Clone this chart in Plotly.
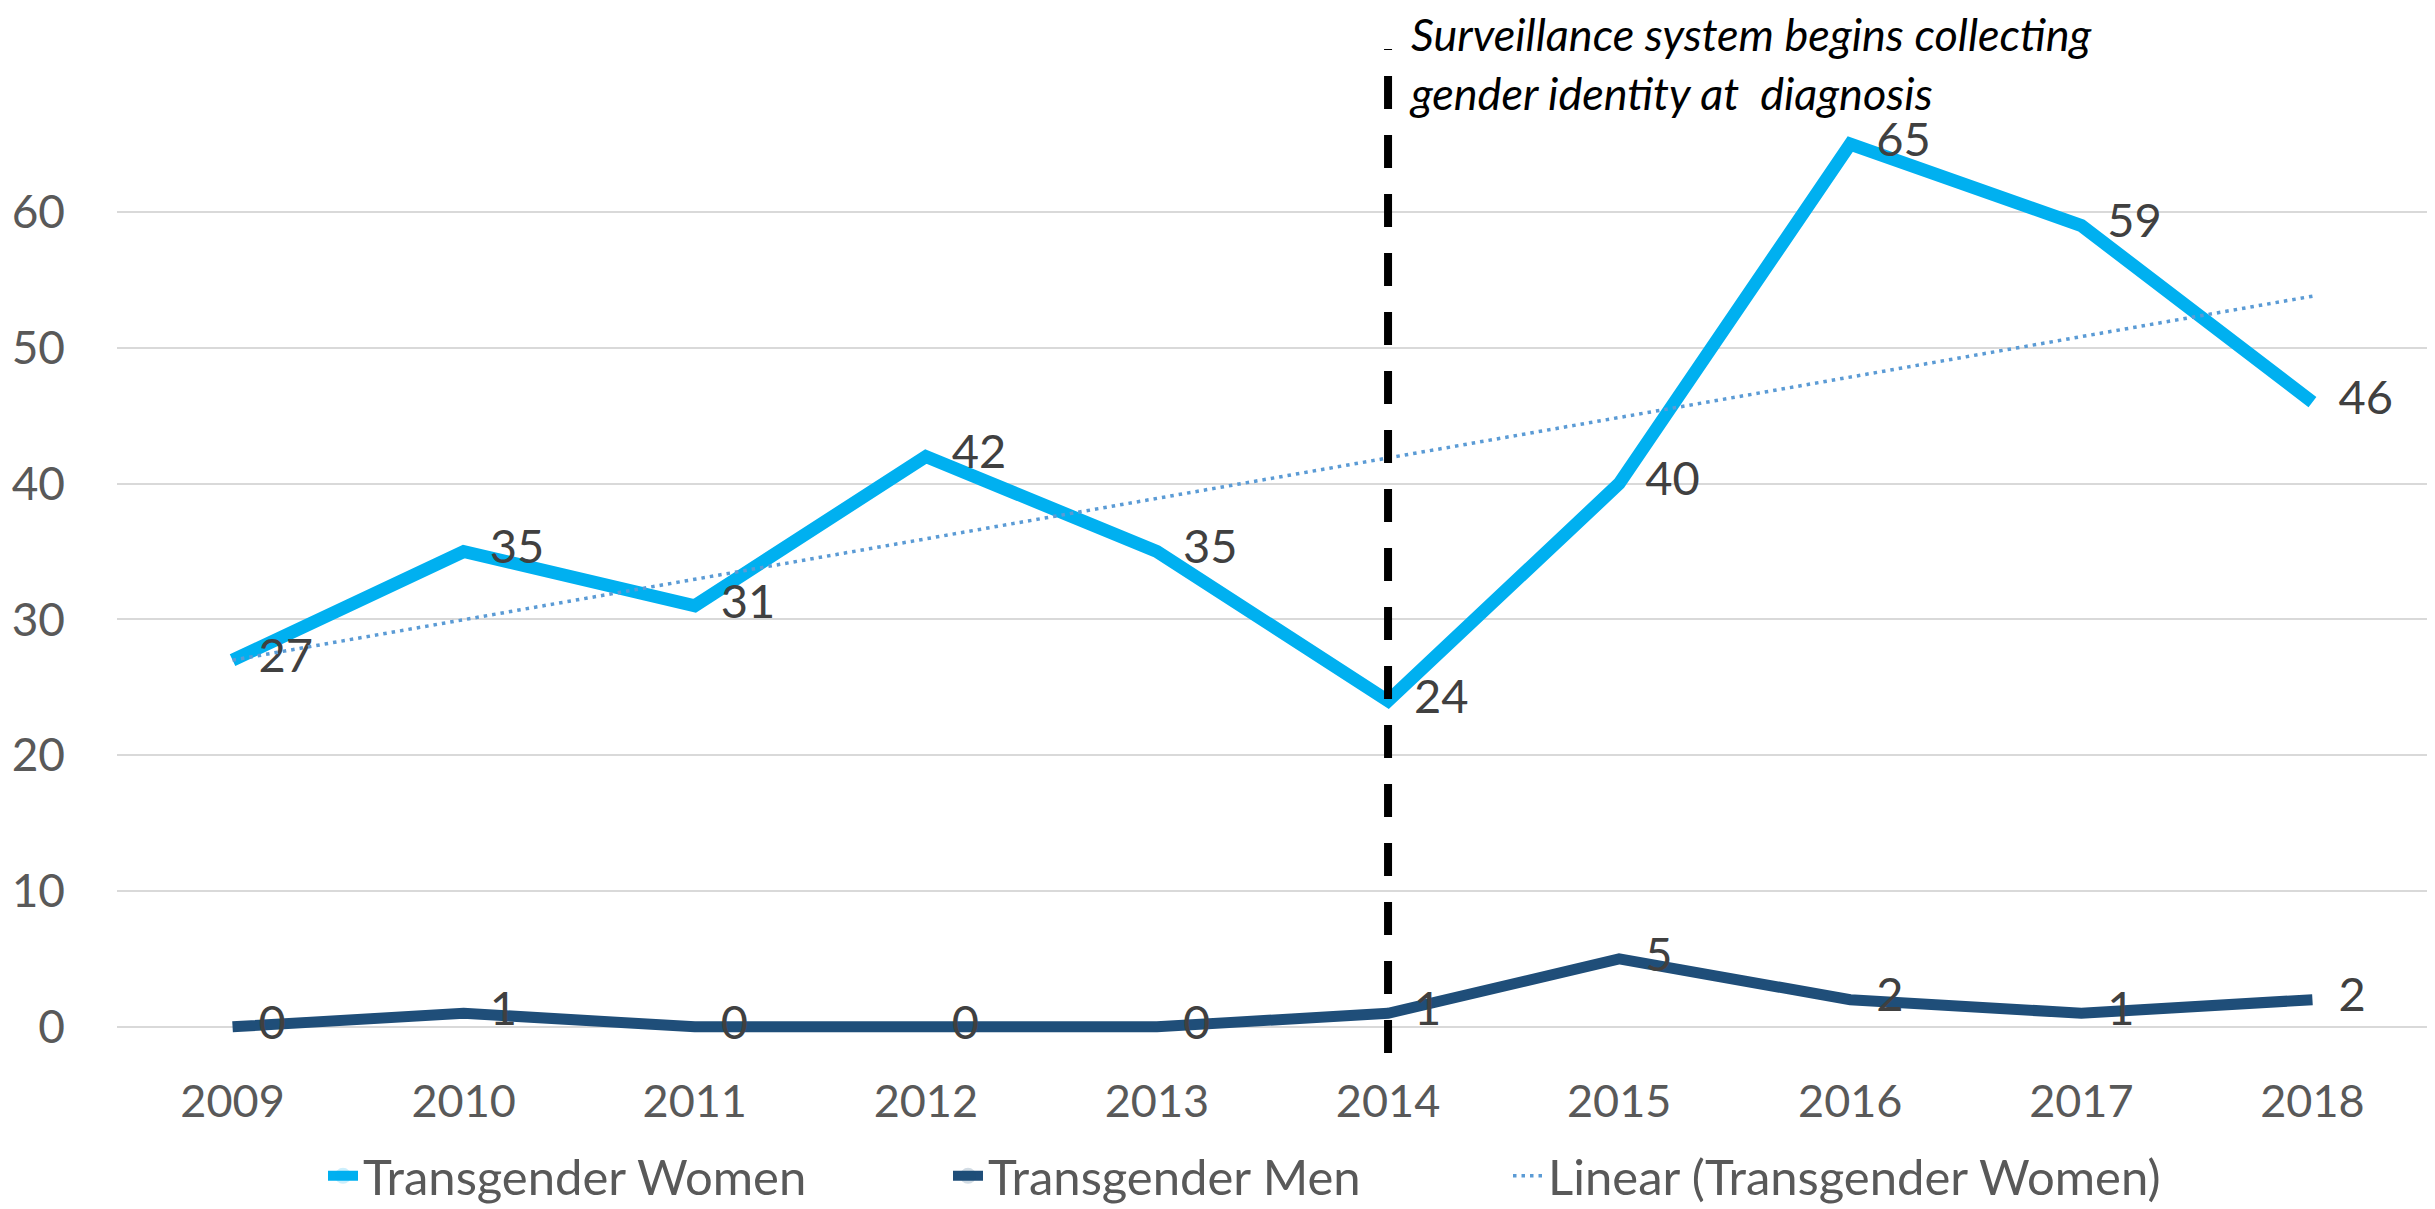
import plotly.graph_objects as go

years = ["2009", "2010", "2011", "2012", "2013", "2014", "2015", "2016", "2017", "2018"]
trans_women = [27, 35, 31, 42, 35, 24, 40, 65, 59, 46]
trans_men = [0, 1, 0, 0, 0, 1, 5, 2, 1, 2]
# linear trend of transgender women, read at both ends of the chart
trend_years = ["2009", "2018"]
trend_women = [27.0, 53.8]
y_ticks = [0, 10, 20, 30, 40, 50, 60]
marker_year = "2014"
note = "Surveillance system begins collecting<br>gender identity at  diagnosis"

FONT = "Lato"
# the page body adds an 8px margin, so the figure is drawn 8px smaller
W, H = 2427, 1201
M_L, M_R, M_T, M_B = 109, 7, 41, 174
plot_w = W - M_L - M_R
plot_h = H - M_T - M_B
# category axes take the category's index for shapes / annotations
marker_idx = years.index(marker_year)

fig = go.Figure()

fig.add_trace(go.Scatter(
    x=years, y=trans_women,
    mode="lines+markers+text",
    name="Transgender Women",
    line=dict(color="#00B0F0", width=13),
    marker=dict(size=40, opacity=0, color="#00B0F0"),
    text=[str(v) for v in trans_women],
    textposition="middle right",
    textfont=dict(family=FONT, size=47, color="#404040"),
    cliponaxis=False,
    legend="legend",
))
fig.add_trace(go.Scatter(
    x=years, y=trans_men,
    mode="lines+markers+text",
    name="Transgender Men",
    line=dict(color="#1F4E79", width=11),
    marker=dict(size=40, opacity=0, color="#1F4E79"),
    text=[str(v) for v in trans_men],
    textposition="middle right",
    textfont=dict(family=FONT, size=47, color="#404040"),
    cliponaxis=False,
    legend="legend2",
))
fig.add_trace(go.Scatter(
    x=trend_years, y=trend_women,
    mode="lines",
    name="Linear (Transgender Women)",
    line=dict(color="#5B9BD5", width=3.5, dash="3.5px,5px"),
    cliponaxis=False,
    legend="legend3",
))

# vertical dashed marker line at 2014
fig.add_shape(
    type="line", xref="x", yref="paper",
    x0=marker_idx, x1=marker_idx,
    y0=-18 / plot_h, y1=1.0,
    line=dict(color="black", width=8, dash="33px,26px"),
)

fig.add_annotation(
    x=marker_idx, xref="x", xanchor="left", xshift=20,
    y=1 + M_T / plot_h, yref="paper", yanchor="top", yshift=2,
    borderpad=0,
    text=note, showarrow=False, align="left",
    font=dict(family=FONT, size=45, color="black", style="italic"),
)

legend_style = dict(
    orientation="h", yref="container", yanchor="middle", y=(H - 1168) / H,
    xanchor="left", font=dict(family=FONT, size=49, color="#595959"),
    bgcolor="rgba(0,0,0,0)", itemwidth=30,
)
fig.update_layout(
    width=W, height=H,
    margin=dict(l=M_L, r=M_R, t=M_T, b=M_B, autoexpand=False),
    plot_bgcolor="white", paper_bgcolor="white",
    font=dict(family=FONT, color="#595959"),
    showlegend=True,
    legend=dict(legend_style, x=(315 - M_L) / plot_w),
    legend2=dict(legend_style, x=(940 - M_L) / plot_w),
    legend3=dict(legend_style, x=(1500 - M_L) / plot_w),
    xaxis=dict(
        type="category", range=[-0.5, 9.5], automargin=False,
        showgrid=False, showline=False, ticks="",
        tickfont=dict(family=FONT, size=45, color="#595959"),
        ticklabelstandoff=36,
    ),
    yaxis=dict(
        range=[-0.6, 72], tickvals=y_ticks, automargin=False,
        showgrid=True, gridcolor="#D9D9D9", gridwidth=2,
        zeroline=False, showline=False, ticks="",
        tickfont=dict(family=FONT, size=46, color="#595959"),
        ticklabelstandoff=51,
    ),
)

fig.write_html("out.html")
